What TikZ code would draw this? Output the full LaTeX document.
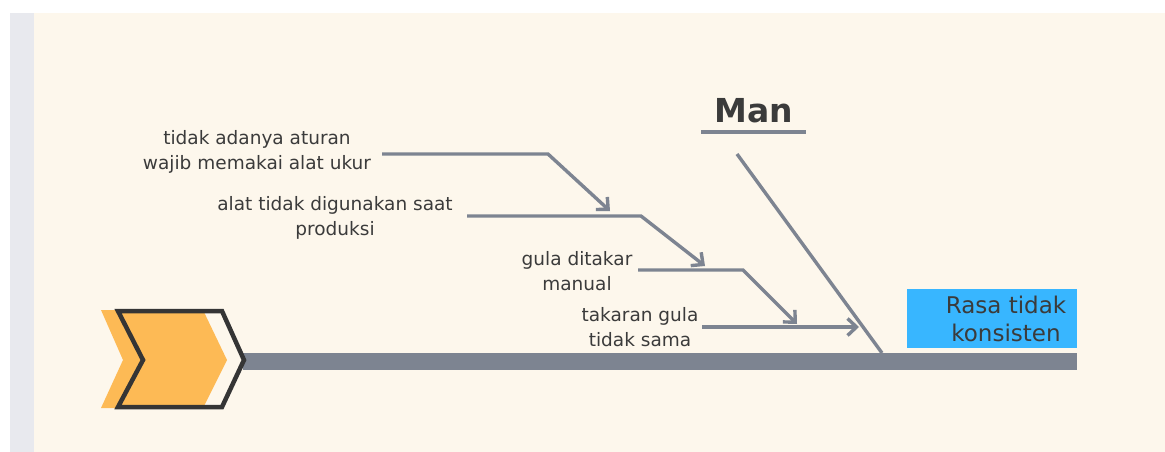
\documentclass[tikz,border=0pt]{standalone}
\usepackage{fontspec}
\setmainfont{DejaVu Sans}
\usetikzlibrary{arrows.meta}
\definecolor{paper}{HTML}{FDF7EC}
\definecolor{sidebar}{HTML}{E8E9EE}
\definecolor{bone}{HTML}{7D8491}
\definecolor{ink}{HTML}{3B3B3B}
\definecolor{amber}{HTML}{FDBA55}
\definecolor{frame}{HTML}{353535}
\definecolor{sky}{HTML}{38B6FF}
\tikzset{
  cause/.style={font=\fontsize{18.5}{25}\selectfont, text=ink, align=center, inner sep=0pt},
  boneline/.style={draw=bone, line width=3.4pt, line join=miter},
  arrowbone/.style={boneline, -{Straight Barb[length=9pt,width=17pt,line width=3.4pt]}},
}
\begin{document}
\begin{tikzpicture}[x=1pt,y=-1pt]
  % page, side strip and paper
  \fill[white] (0,0) rectangle (1165,452);
  \useasboundingbox (0,0) rectangle (1165,452);
  \fill[sidebar] (10,13) rectangle (34,452);
  \fill[paper] (34,13) rectangle (1165,452);

  % spine
  \fill[bone] (243,353) rectangle (1077,370);

  % head chevron
  \fill[amber] (101,310) -- (203,310) -- (227,360) -- (203,408) -- (101,408) -- (123,360) -- cycle;
  \draw[frame, line width=4.5pt, line join=miter] (118,311) -- (222,311) -- (244,360) -- (222,407) -- (118,407) -- (143,360) -- cycle;

  % effect box
  \node[fill=sky, minimum width=170pt, minimum height=59pt, inner sep=0pt] (effect) at (992,318.5) {};
  \node[font=\fontsize{23}{28}\selectfont, text=ink, align=center, inner sep=0pt] (effecttext) at (1006,319) {Rasa tidak\\konsisten};

  % category
  \node[font=\bfseries\fontsize{33}{38}\selectfont, text=ink, inner sep=0pt] (man) at (754,111) {Man};
  \coordinate (ulA) at (701,132);
  \coordinate (ulB) at (806,132);
  \draw[bone, line width=4pt] (ulA) -- (ulB);

  % main bone
  \coordinate (manTop) at (737,154);
  \coordinate (manFoot) at (882,353);
  \draw[boneline] (manTop) -- (manFoot);

  % causes
  \node[cause] (c1) at (257,152) {tidak adanya aturan\\wajib memakai alat ukur};
  \node[cause] (c2) at (335,218) {alat tidak digunakan saat\\produksi};
  \node[cause] (c3) at (577,271) {gula ditakar\\manual};
  \node[cause] (c4) at (640,327) {takaran gula\\tidak sama};

  \coordinate (c1s) at (382,154);
  \coordinate (c1b) at (548,154);
  \coordinate (c1e) at (610,211);
  \coordinate (c2s) at (467,216);
  \coordinate (c2b) at (641,216);
  \coordinate (c2e) at (705,266);
  \coordinate (c3s) at (638,270);
  \coordinate (c3b) at (743,270);
  \coordinate (c3e) at (797,324);
  \coordinate (c4s) at (702,327);
  \coordinate (c4e) at (859,327);

  \draw[arrowbone] (c1s) -- (c1b) -- (c1e);
  \draw[arrowbone] (c2s) -- (c2b) -- (c2e);
  \draw[arrowbone] (c3s) -- (c3b) -- (c3e);
  \draw[arrowbone] (c4s) -- (c4e);
\end{tikzpicture}
\end{document}
